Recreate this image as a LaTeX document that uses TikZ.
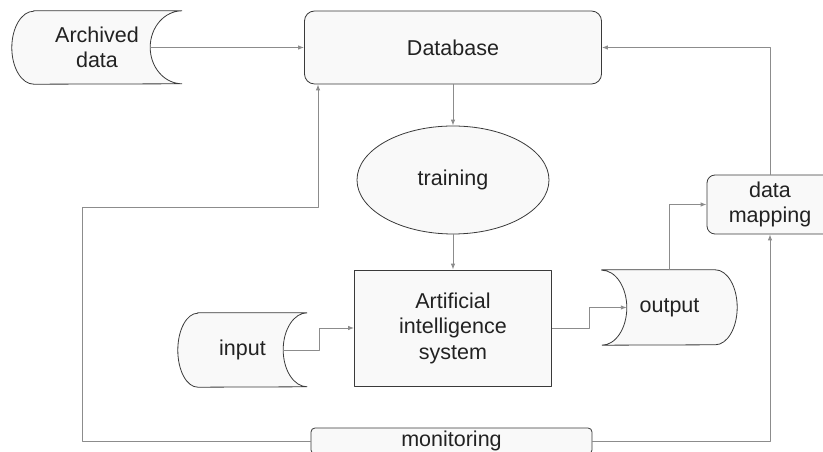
\documentclass[tikz,border=0pt]{standalone}
\usepackage{fontspec}
\setmainfont{Liberation Sans}
\usetikzlibrary{shapes.geometric,arrows.meta,backgrounds}

\definecolor{boxfill}{HTML}{F9F9F9}
\definecolor{boxline}{HTML}{3A3A3A}
\definecolor{linkgray}{HTML}{8C8C8C}
\definecolor{txtgray}{HTML}{222222}

% stored data, round on the left, hollow on the right: name, left bulge, right bulge, half height
\newcommand{\dataL}[4]{\begin{pgfonlayer}{background}
  \filldraw [fill=boxfill, draw=boxline, line width=0.8pt] ([xshift=#2pt]#1.north west) -- (#1.north east)
    arc[start angle=90, end angle=270, x radius=#3pt, y radius=#4pt] -- ([xshift=#2pt]#1.south west)
    arc[start angle=270, end angle=90, x radius=#2pt, y radius=#4pt] -- cycle;
\end{pgfonlayer}}
% stored data, hollow on the left, round on the right
\newcommand{\dataR}[4]{\begin{pgfonlayer}{background}
  \filldraw [fill=boxfill, draw=boxline, line width=0.8pt] (#1.north west) -- ([xshift=-#3pt]#1.north east)
    arc[start angle=90, end angle=-90, x radius=#3pt, y radius=#4pt] -- (#1.south west)
    arc[start angle=-90, end angle=90, x radius=#2pt, y radius=#4pt] -- cycle;
\end{pgfonlayer}}

\begin{document}
\begin{tikzpicture}[x=1pt,y=1pt,line join=round,>={Latex[length=6pt,width=4.5pt]},
    lbl/.style={font=\fontsize{21.5}{25.5}\selectfont, text=txtgray, align=center, inner sep=0pt},
    box/.style={lbl, draw=boxline, fill=boxfill, line width=0.8pt},
    link/.style={->, draw=linkgray, line width=0.9pt}]
  \useasboundingbox (0,0) rectangle (823,452);

  \node [lbl, minimum width=170, minimum height=73] (archived) at (97,404.5) {Archived\\data};
  \dataL{archived}{22}{32}{36.5}
  \node [box, rounded corners=10, minimum width=297, minimum height=73] (db) at (453,404.5) {Database};
  \node [box, ellipse, minimum width=192, minimum height=108] (train) at (453,272) {training};
  \node [box, minimum width=197, minimum height=116] (ai) at (453,124) {Artificial\\intelligence\\system};
  \node [lbl, minimum width=129, minimum height=74] (inp) at (242.5,102) {input};
  \dataL{inp}{20}{24}{37}
  \node [lbl, minimum width=135, minimum height=75] (outp) at (669.5,144.5) {output};
  \dataR{outp}{25}{22}{37.5}
  \node [box, rounded corners=8, minimum width=126, minimum height=59] (map) at (770,247.5) {data\\mapping};
  \node [box, rounded corners=4, minimum width=281, minimum height=26] (mon) at (451.5,11) {monitoring};

  \draw [link] ([xshift=-32pt]archived.east) -- (db.west);
  \draw [link] (db.south) -- (train.north);
  \draw [link] (train.south) -- (ai.north);
  \draw [link] ([xshift=-24pt]inp.east) -- ++(36,0) |- (ai.west);
  \draw [link] (ai.east) -- ++(38,0) |- ([xshift=25pt]outp.west);
  \draw [link] (outp.north) |- (map.west);
  \draw [link] (map.north) |- (db.east);
  \draw [link] (mon.east) -| (map.south);
  \draw [link] (mon.west) -| (82,245) -| ([xshift=-135pt]db.south);
\end{tikzpicture}
\end{document}
